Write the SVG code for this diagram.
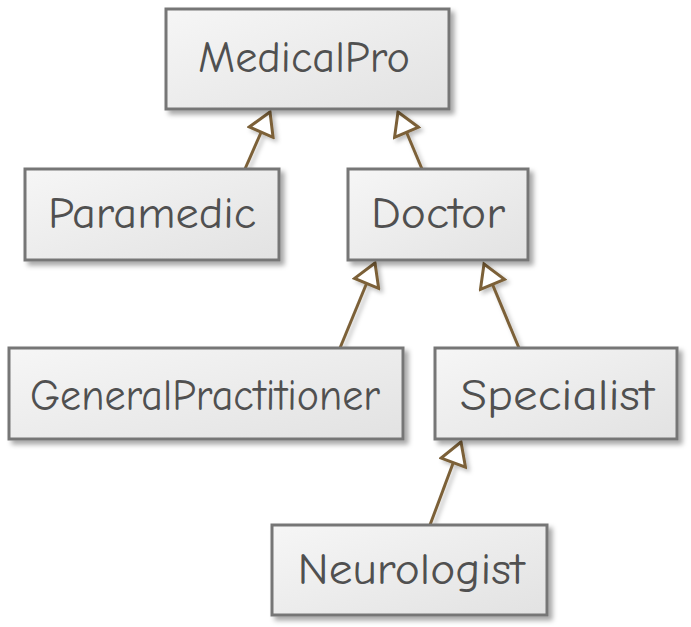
<svg xmlns="http://www.w3.org/2000/svg" width="691" height="627" viewBox="0 0 691 627">
<style>
.box{fill:url(#g);stroke:#767676;stroke-width:3;filter:url(#sh)}
.lbl{font-family:"Comic Neue","Open Sans","Liberation Sans",sans-serif;font-size:44px;fill:#505050;text-anchor:middle}
.edge{stroke:#7b6138;stroke-width:3;fill:none;marker-end:url(#tri)}
</style>
<defs>
<linearGradient id="g" x1="0" y1="0" x2="1" y2="1">
<stop offset="0" stop-color="#f6f6f6"/>
<stop offset="1" stop-color="#e2e2e2"/>
</linearGradient>
<filter id="sh" x="-10%" y="-10%" width="130%" height="140%">
<feDropShadow dx="4" dy="4" stdDeviation="2.5" flood-color="#000" flood-opacity="0.35"/>
</filter>
<filter id="sh2" x="-20%" y="-20%" width="150%" height="150%">
<feDropShadow dx="3" dy="3" stdDeviation="2" flood-color="#000" flood-opacity="0.25"/>
</filter>
<marker id="tri" viewBox="-26 -15 29 30" refX="0" refY="0" markerWidth="29" markerHeight="30" markerUnits="userSpaceOnUse" orient="auto">
<path d="M0,0 L-22,-13 L-22,13 Z" fill="#ffffff" stroke="#7b6138" stroke-width="3" stroke-linejoin="miter"/>
</marker>
</defs>
<g id="connectors" filter="url(#sh2)">
<line class="edge" x1="245" y1="169" x2="270" y2="112"/>
<line class="edge" x1="422" y1="169" x2="398" y2="112"/>
<line class="edge" x1="340" y1="348" x2="375" y2="263"/>
<line class="edge" x1="519" y1="348" x2="484" y2="264"/>
<line class="edge" x1="430" y1="525" x2="461" y2="442"/>
</g>
<g id="MedicalPro">
<rect class="box" x="166" y="9" width="283" height="100"/>
<text class="lbl" x="304" y="72" textLength="212" lengthAdjust="spacingAndGlyphs">MedicalPro</text>
</g>
<g id="Paramedic">
<rect class="box" x="25" y="169" width="254" height="91"/>
<text class="lbl" x="152" y="228" textLength="208" lengthAdjust="spacingAndGlyphs">Paramedic</text>
</g>
<g id="Doctor">
<rect class="box" x="348" y="169" width="180" height="91"/>
<text class="lbl" x="438" y="228" textLength="134" lengthAdjust="spacingAndGlyphs">Doctor</text>
</g>
<g id="GeneralPractitioner">
<rect class="box" x="9" y="348" width="394" height="91"/>
<text class="lbl" x="205" y="410" textLength="350" lengthAdjust="spacingAndGlyphs">GeneralPractitioner</text>
</g>
<g id="Specialist">
<rect class="box" x="435" y="348" width="242" height="91"/>
<text class="lbl" x="557" y="410" textLength="194" lengthAdjust="spacingAndGlyphs">Specialist</text>
</g>
<g id="Neurologist">
<rect class="box" x="272" y="525" width="275" height="90"/>
<text class="lbl" x="411" y="584" textLength="227" lengthAdjust="spacingAndGlyphs">Neurologist</text>
</g>
</svg>
